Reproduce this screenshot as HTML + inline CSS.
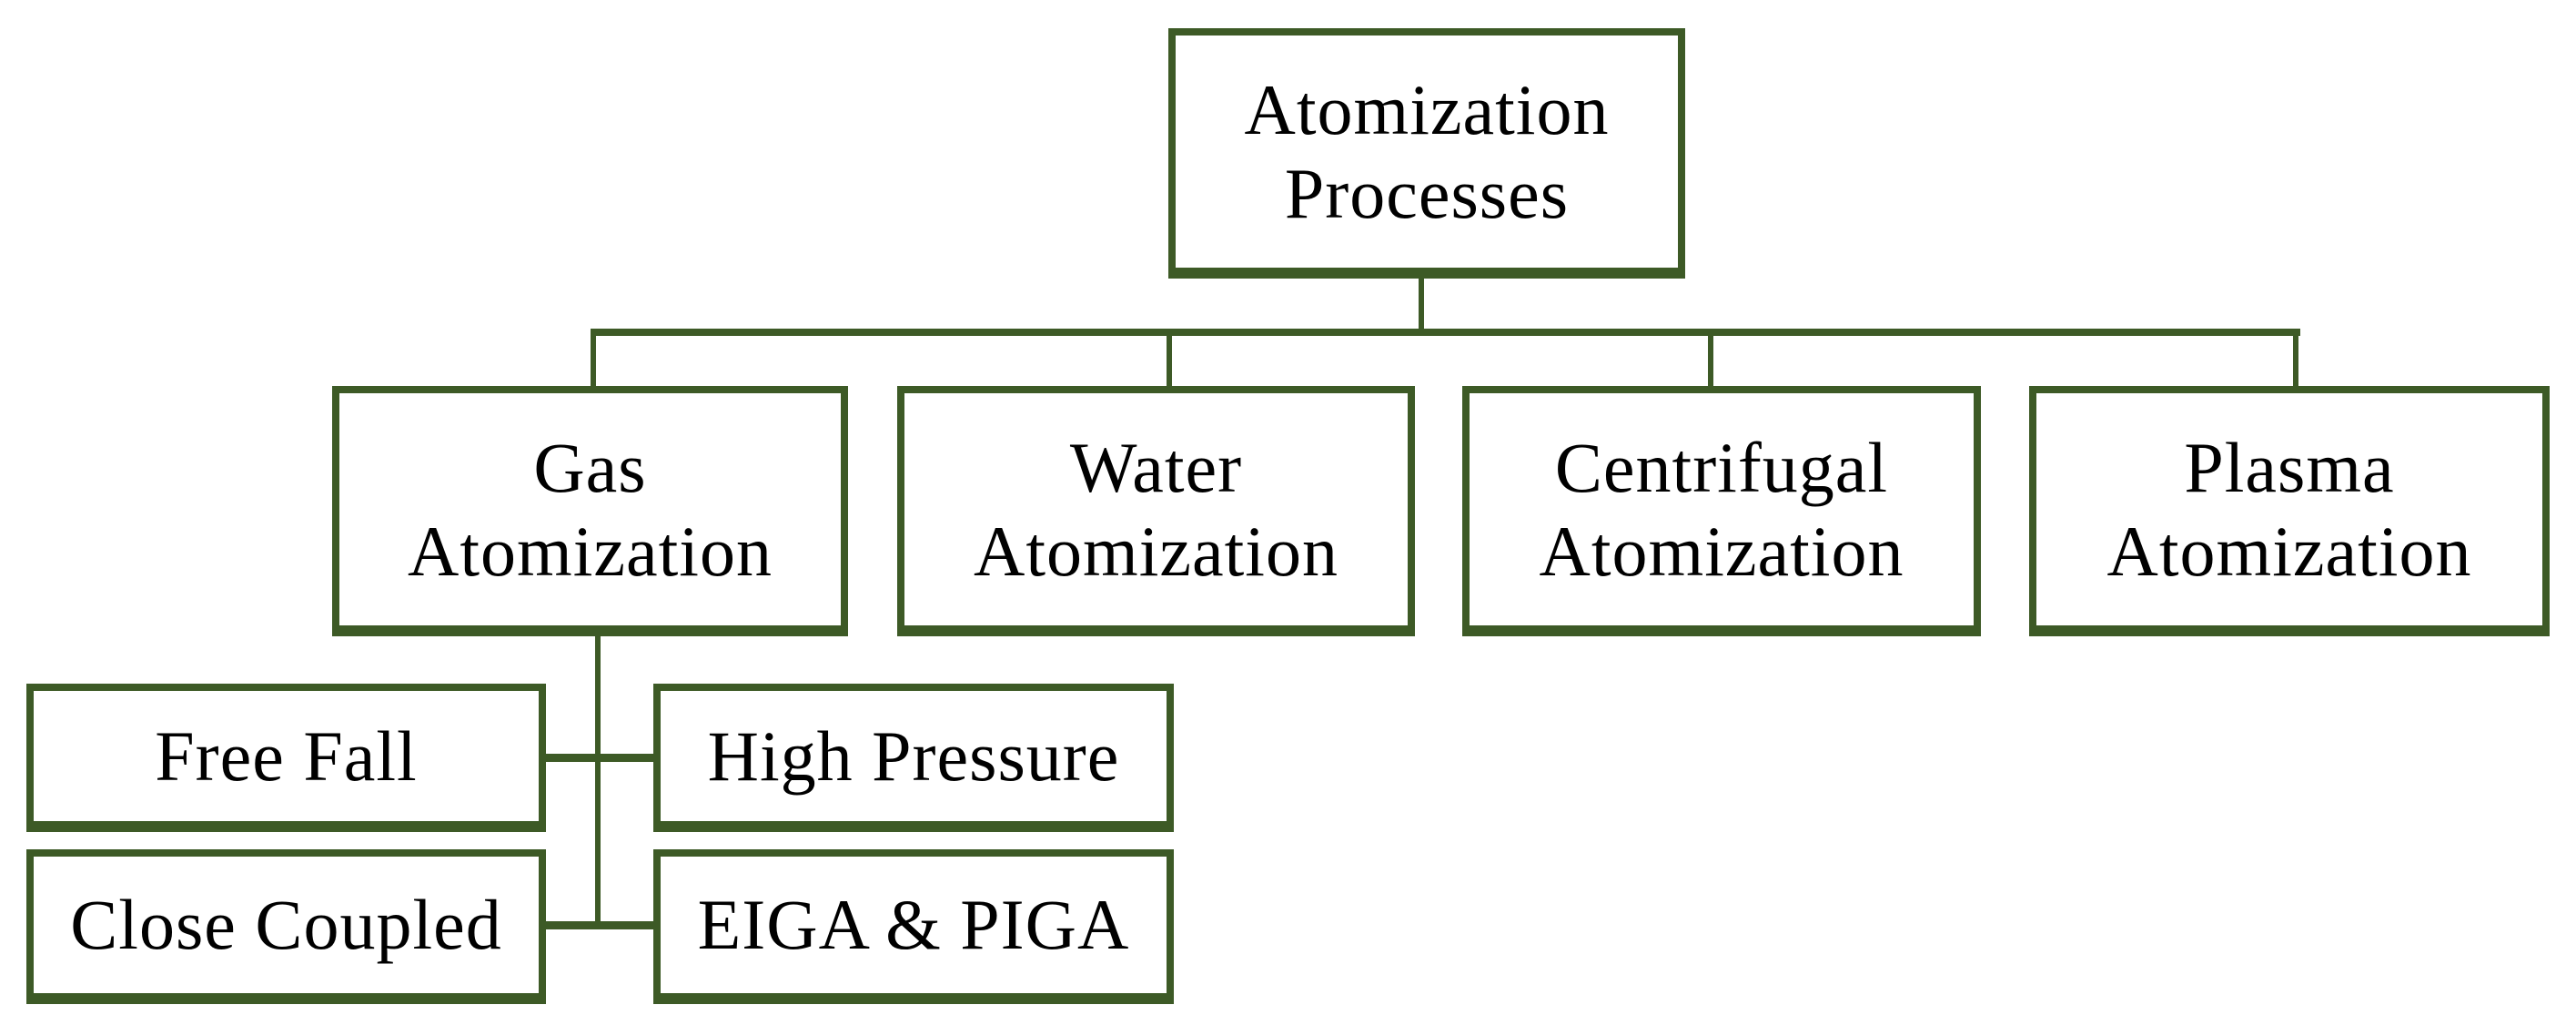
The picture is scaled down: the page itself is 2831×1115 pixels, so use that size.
<!DOCTYPE html>
<html><head><meta charset="utf-8"><style>
body{margin:0;width:2831px;height:1115px;background:#fff;position:relative;overflow:hidden;font-family:"Liberation Serif",serif;}
.b{position:absolute;box-sizing:border-box;border:8px solid #3d5a26;border-bottom-width:12px;background:#fff;display:flex;align-items:center;justify-content:center;text-align:center;font-size:78px;line-height:92px;letter-spacing:1px;color:#000;}
.l{position:absolute;background:#3d5a26;}
</style></head><body>
<div class="l" style="left:1559px;top:300px;width:6px;height:68px"></div>
<div class="l" style="left:649px;top:361px;width:1879px;height:8px"></div>
<div class="l" style="left:649px;top:362px;width:6px;height:64px"></div>
<div class="l" style="left:1282px;top:362px;width:6px;height:64px"></div>
<div class="l" style="left:1877px;top:362px;width:6px;height:64px"></div>
<div class="l" style="left:2520px;top:362px;width:6px;height:64px"></div>
<div class="l" style="left:654px;top:695px;width:6px;height:325px"></div>
<div class="l" style="left:596px;top:828px;width:124px;height:9px"></div>
<div class="l" style="left:596px;top:1012px;width:124px;height:9px"></div>

<div class="b" style="left:1284px;top:31px;width:568px;height:275px">Atomization<br>Processes</div>
<div class="b" style="left:365px;top:424px;width:567px;height:275px">Gas<br>Atomization</div>
<div class="b" style="left:986px;top:424px;width:569px;height:275px">Water<br>Atomization</div>
<div class="b" style="left:1607px;top:424px;width:570px;height:275px">Centrifugal<br>Atomization</div>
<div class="b" style="left:2230px;top:424px;width:572px;height:275px">Plasma<br>Atomization</div>
<div class="b" style="left:29px;top:751px;width:571px;height:163px">Free Fall</div>
<div class="b" style="left:718px;top:751px;width:572px;height:163px">High Pressure</div>
<div class="b" style="left:29px;top:933px;width:571px;height:170px">Close Coupled</div>
<div class="b" style="left:718px;top:933px;width:572px;height:170px">EIGA &amp; PIGA</div>
</body></html>
